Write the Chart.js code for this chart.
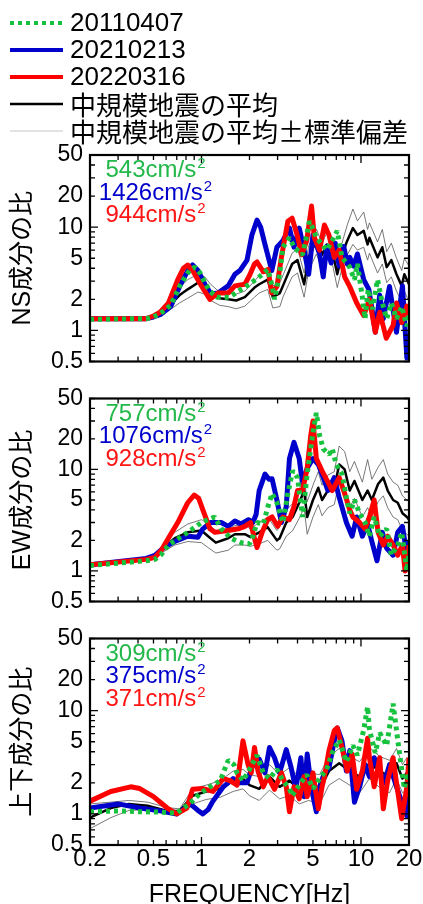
<!DOCTYPE html>
<html><head><meta charset="utf-8">
<script src="https://cdn.jsdelivr.net/npm/chart.js@4.4.1/dist/chart.umd.min.js"></script>
<style>
html,body{margin:0;padding:0;background:#fff;width:423px;height:904px;overflow:hidden;position:relative}
canvas{position:absolute;left:0}
</style></head><body>
<canvas id="c1" width="423" height="380" style="top:0px"></canvas>
<canvas id="c2" width="423" height="240" style="top:380px"></canvas>
<canvas id="c3" width="423" height="290" style="top:620px"></canvas>
<script>
// ---------- ticks / labels ----------
const xTicks = [0.2, 0.5, 1, 2, 5, 10, 20];
const yTicks = [0.5, 1, 2, 5, 10, 20, 50];
const seriesLabels = ['20110407', '20210213', '20220316', '中規模地震の平均', '中規模地震の平均±標準偏差'];
const panelTitles = ['NS成分の比', 'EW成分の比', '上下成分の比'];
const xTitle = 'FREQUENCY[Hz]';
const nsPga = ['543', '1426', '944'];
const ewPga = ['757', '1076', '928'];
const udPga = ['309', '375', '371'];

// ---------- NS component [frequency Hz, ratio] ----------
const nsGreen = [[0.2,1.28],[0.45,1.3],[0.5,1.35],[0.55,1.45],[0.64,1.75],[0.74,2.8],[0.84,3.8],[0.91,4.1],[0.98,3.6],[1.05,2.9],[1.13,2.4],[1.25,2.1],[1.5,2.1],[1.77,2.5],[2.0,2.8],[2.3,3.3],[2.61,3.9],[2.77,2.7],[2.87,2.0],[3.09,3.5],[3.24,6.4],[3.56,7.9],[3.8,6.4],[4.3,5.4],[4.57,8.4],[4.75,11.4],[5.0,9.7],[5.25,7.9],[5.7,6.8],[6.1,6.0],[6.6,7.4],[7.1,9.2],[7.6,5.1],[8.5,4.1],[9.1,3.1],[9.5,4.4],[10.2,2.1],[10.6,1.3],[11.1,2.5],[11.8,1.6],[12.7,3.1],[13.6,1.84],[14.5,1.3],[15.5,1.84],[16.7,1.3],[18.0,1.7],[19.4,1.1],[20,1.4]];
const nsBlue = [[0.2,1.3],[0.45,1.3],[0.5,1.35],[0.55,1.42],[0.64,1.7],[0.74,2.8],[0.82,3.8],[0.88,4.3],[0.95,3.8],[1.05,2.8],[1.15,2.25],[1.27,2.3],[1.47,2.7],[1.62,3.5],[1.74,3.8],[1.93,4.8],[2.07,8.4],[2.23,11.7],[2.35,10.0],[2.5,6.8],[2.76,3.8],[2.97,6.4],[3.24,7.4],[3.56,9.8],[3.8,6.4],[4.1,9.8],[4.4,6.0],[4.7,3.5],[5.0,8.4],[5.5,5.5],[5.8,3.3],[6.1,6.5],[6.5,4.5],[6.9,7.0],[7.3,4.2],[7.8,6.5],[8.2,4.4],[8.5,5.1],[9.0,4.2],[9.5,5.5],[10.4,3.1],[11.2,2.5],[11.8,1.5],[12.3,0.96],[13.1,2.2],[13.8,1.3],[15.1,2.66],[16.7,0.96],[18.2,2.7],[19.4,0.54],[20,0.8]];
const nsRed = [[0.2,1.3],[0.45,1.3],[0.5,1.38],[0.55,1.5],[0.62,1.84],[0.71,3.1],[0.77,4.0],[0.82,4.3],[0.88,3.8],[1.0,2.7],[1.13,2.0],[1.27,2.3],[1.47,2.3],[1.62,2.7],[1.87,2.8],[2.0,3.4],[2.15,4.4],[2.23,4.6],[2.44,3.7],[2.61,3.9],[2.76,2.3],[2.97,2.66],[3.17,5.1],[3.48,11.4],[3.7,12.2],[3.98,8.4],[4.25,5.4],[4.57,7.4],[4.9,16],[5.1,7.9],[5.5,6.0],[5.9,10.5],[6.3,8.4],[6.8,5.1],[7.3,6.0],[7.9,3.3],[8.5,2.66],[9.4,1.84],[10.4,1.39],[11.3,2.0],[12.3,0.96],[13.1,1.5],[14.4,0.84],[15.9,1.12],[16.7,1.84],[18.0,1.19],[19.4,1.72],[20,1.4]];
const nsMean = [[0.2,1.3],[0.45,1.3],[0.51,1.38],[0.57,1.5],[0.64,1.8],[0.73,2.2],[0.82,2.5],[0.95,2.9],[1.05,2.6],[1.14,2.3],[1.3,2.05],[1.47,2.0],[1.65,1.95],[1.87,2.1],[2.15,2.6],[2.3,2.8],[2.6,3.1],[2.8,2.1],[3.1,2.3],[3.24,2.7],[3.7,4.4],[4.0,4.8],[4.4,2.8],[4.7,5.1],[5.25,7.4],[5.7,5.4],[6.1,6.8],[6.6,6.0],[7.1,3.5],[7.6,5.4],[8.2,7.4],[8.9,9.8],[9.5,8.4],[10.4,9.2],[11.0,6.8],[11.3,7.9],[12.7,5.1],[13.6,6.4],[14.5,4.1],[15.5,4.8],[16.7,3.5],[18.0,2.7],[18.7,3.5],[20,2.8]];
const nsUpper = [[0.2,1.32],[0.45,1.34],[0.51,1.42],[0.57,1.6],[0.64,2.0],[0.73,2.6],[0.82,3.1],[0.95,3.5],[1.05,3.3],[1.14,2.8],[1.3,2.35],[1.47,2.3],[1.65,2.25],[1.87,2.4],[2.15,3.0],[2.3,3.4],[2.6,3.9],[2.8,2.7],[3.1,2.9],[3.24,3.4],[3.7,5.6],[4.0,6.2],[4.4,3.6],[4.7,6.6],[5.25,9.6],[5.7,7.0],[6.1,8.8],[6.6,7.8],[7.1,4.6],[7.6,7.0],[8.2,10.5],[8.9,15],[9.5,11.5],[10.4,14],[11.0,9.5],[11.3,11],[12.7,7.2],[13.6,9.5],[14.5,5.8],[15.5,7.0],[16.7,5.0],[18.0,3.8],[18.7,5.0],[20,4.2]];
const nsLower = [[0.2,1.27],[0.45,1.27],[0.51,1.32],[0.57,1.4],[0.64,1.6],[0.73,1.85],[0.82,2.05],[0.95,2.35],[1.05,2.25],[1.14,1.95],[1.3,1.75],[1.47,1.7],[1.65,1.62],[1.87,1.72],[2.15,2.1],[2.3,2.3],[2.6,2.5],[2.8,1.65],[3.1,1.7],[3.24,2.1],[3.7,3.3],[4.0,3.6],[4.4,2.1],[4.7,3.8],[5.25,5.5],[5.7,4.0],[6.1,5.0],[6.6,4.5],[7.1,2.6],[7.6,4.0],[8.2,5.4],[8.9,6.8],[9.5,6.0],[10.4,6.4],[11.0,4.8],[11.3,5.6],[12.7,3.6],[13.6,4.4],[14.5,2.9],[15.5,3.3],[16.7,2.4],[18.0,1.9],[18.7,2.4],[20,1.9]];

// ---------- EW component ----------
const ewGreen = [[0.2,1.13],[0.45,1.26],[0.51,1.3],[0.56,1.45],[0.62,1.8],[0.72,2.1],[0.82,2.4],[1.0,3.0],[1.1,3.2],[1.21,3.4],[1.33,2.6],[1.53,2.1],[1.77,1.9],[2.0,1.85],[2.1,2.2],[2.23,3.0],[2.44,2.9],[2.61,4.3],[2.77,5.8],[2.97,4.7],[3.24,3.0],[3.48,5.8],[3.73,9.7],[4.0,8.3],[4.3,3.4],[4.6,9.0],[5.0,23],[5.25,36],[5.5,21.7],[5.8,16],[6.3,14],[6.6,16],[7.0,11.2],[7.6,9.0],[8.1,5.3],[8.5,3.7],[9.1,5.0],[9.8,3.7],[10.6,3.0],[11.3,2.2],[12.1,3.4],[13.1,2.2],[14.5,2.6],[15.5,1.43],[17.0,1.8],[18.0,2.4],[19.4,1.0],[20,1.5]];
const ewBlue = [[0.2,1.15],[0.45,1.33],[0.51,1.42],[0.58,1.7],[0.68,1.95],[0.82,2.2],[0.95,2.15],[1.02,2.6],[1.14,3.0],[1.33,3.0],[1.47,2.75],[1.62,3.1],[1.77,2.9],[1.97,3.2],[2.1,3.0],[2.2,3.6],[2.3,6.2],[2.5,9.0],[2.65,8.0],[2.77,8.1],[2.97,5.0],[3.17,3.0],[3.4,4.3],[3.56,12.8],[3.8,18.5],[4.1,12.8],[4.3,7.2],[4.6,10.3],[5.0,12.8],[5.4,11.2],[5.8,8.3],[6.2,6.2],[6.8,8.3],[7.3,5.3],[8.1,3.0],[8.8,2.2],[9.4,3.4],[10.2,2.2],[11.0,2.9],[11.7,1.95],[12.6,1.26],[13.6,2.4],[14.5,1.67],[15.9,1.43],[17.0,2.4],[18.2,2.75],[19.4,1.43],[20,2.0]];
const ewRed = [[0.2,1.15],[0.45,1.3],[0.51,1.36],[0.56,1.6],[0.62,2.1],[0.71,3.0],[0.82,4.7],[0.9,5.6],[0.96,5.2],[1.02,4.0],[1.13,2.6],[1.21,2.4],[1.47,2.5],[1.7,2.6],[1.87,2.75],[2.03,3.0],[2.13,2.2],[2.23,1.7],[2.4,2.4],[2.6,3.2],[2.77,3.4],[3.0,2.75],[3.24,3.4],[3.56,3.2],[3.8,4.3],[4.0,6.2],[4.3,6.2],[4.6,10.3],[4.85,22],[5.0,30],[5.25,12.8],[5.7,9.7],[6.1,7.9],[6.6,6.2],[7.3,8.3],[7.9,5.8],[8.5,4.0],[8.9,3.4],[9.8,3.0],[10.6,2.6],[11.3,3.4],[12.1,5.0],[12.8,2.4],[13.8,1.8],[14.7,2.2],[15.9,1.8],[17.0,1.43],[18.2,1.8],[18.9,1.0],[19.4,1.15],[20,1.8]];
const ewMean = [[0.2,1.15],[0.45,1.3],[0.51,1.36],[0.58,1.7],[0.68,2.1],[0.82,2.4],[1.0,2.5],[1.1,2.2],[1.23,1.9],[1.47,2.1],[1.62,2.3],[1.87,2.3],[2.03,2.15],[2.3,2.4],[2.6,2.7],[2.97,2.0],[3.09,2.1],[3.4,3.0],[3.73,3.4],[4.1,4.7],[4.4,6.2],[4.6,3.4],[5.0,5.0],[5.4,6.6],[5.7,5.0],[6.2,6.2],[6.8,6.5],[7.3,11.2],[7.9,10],[8.5,6.2],[9.1,7.7],[10.2,5.0],[11.0,6.2],[11.7,5.0],[12.8,7.2],[13.8,8.3],[14.7,6.2],[15.9,5.0],[17.0,4.7],[18.2,3.7],[19.4,3.4],[20,3.2]];
const ewUpper = [[0.2,1.17],[0.45,1.33],[0.51,1.42],[0.58,1.85],[0.68,2.4],[0.82,2.9],[1.0,3.2],[1.1,2.9],[1.23,2.5],[1.47,2.6],[1.62,2.8],[1.87,2.8],[2.03,2.6],[2.3,3.0],[2.6,3.4],[2.97,2.5],[3.09,2.7],[3.4,4.0],[3.73,4.6],[4.1,6.4],[4.4,8.5],[4.6,4.8],[5.0,7.0],[5.4,9.5],[5.7,7.0],[6.2,8.8],[6.8,9.5],[7.3,17],[7.9,15],[8.5,9.5],[9.1,12],[10.2,7.5],[11.0,12.5],[11.7,8.0],[12.8,10.5],[13.8,12.5],[14.7,9.0],[15.9,7.5],[17.0,7.0],[18.2,5.5],[19.4,5.0],[20,4.8]];
const ewLower = [[0.2,1.13],[0.45,1.27],[0.51,1.3],[0.58,1.55],[0.68,1.8],[0.82,1.95],[1.0,1.9],[1.1,1.7],[1.23,1.5],[1.47,1.6],[1.62,1.8],[1.87,1.8],[2.03,1.75],[2.3,1.85],[2.6,2.0],[2.97,1.6],[3.09,1.65],[3.4,2.2],[3.73,2.5],[4.1,3.3],[4.4,4.2],[4.6,2.3],[5.0,3.4],[5.4,4.5],[5.7,3.5],[6.2,4.2],[6.8,4.5],[7.3,7.5],[7.9,6.5],[8.5,4.2],[9.1,5.2],[10.2,3.4],[11.0,4.2],[11.7,3.4],[12.8,4.8],[13.8,5.5],[14.7,4.2],[15.9,3.4],[17.0,3.2],[18.2,2.5],[19.4,2.3],[20,2.2]];

// ---------- UD (上下) component ----------
const udGreen = [[0.2,1.05],[0.3,1.07],[0.41,1.05],[0.55,1.04],[0.7,1.02],[0.85,1.27],[0.98,1.58],[1.13,1.83],[1.31,2.1],[1.47,3.3],[1.6,3.0],[1.67,2.5],[1.82,2.1],[2.0,2.7],[2.23,3.7],[2.44,2.5],[2.67,2.2],[2.97,2.7],[3.24,2.1],[3.56,1.76],[3.7,1.5],[4.1,1.9],[4.57,2.4],[5.0,1.76],[5.5,2.2],[6.1,2.7],[6.6,3.9],[7.3,5.2],[8.1,3.2],[8.9,4.6],[9.5,3.7],[10.4,6.5],[11.0,10.9],[11.3,6.5],[12.3,3.9],[13.1,6.1],[14.5,4.6],[15.9,11.7],[17.0,5.2],[18.0,2.7],[18.7,1.76],[19.6,2.5],[20,2.0]];
const udBlue = [[0.2,1.14],[0.3,1.25],[0.41,1.14],[0.55,1.07],[0.7,1.0],[0.85,1.25],[0.95,1.08],[1.02,1.0],[1.1,1.1],[1.18,1.33],[1.37,1.83],[1.58,2.2],[1.74,2.0],[1.93,2.0],[2.1,3.0],[2.3,3.4],[2.5,2.5],[2.67,4.4],[2.87,3.5],[3.09,2.5],[3.4,4.2],[3.65,2.8],[3.9,1.73],[4.2,3.5],[4.4,1.47],[4.6,3.8],[4.9,1.73],[5.25,1.05],[5.5,1.83],[5.9,2.5],[6.3,2.8],[6.8,5.1],[7.1,6.8],[7.6,5.1],[8.1,2.6],[8.5,4.1],[9.1,1.3],[9.8,1.83],[10.6,3.0],[11.3,2.3],[12.1,3.5],[13.1,2.6],[14.0,2.0],[15.1,3.0],[16.7,1.83],[18.0,1.3],[19.4,0.96],[20,2.0]];
const udRed = [[0.2,1.33],[0.27,1.65],[0.36,1.83],[0.41,1.76],[0.5,1.47],[0.61,1.14],[0.7,1.0],[0.81,1.14],[0.88,1.73],[1.02,1.76],[1.18,1.65],[1.37,2.2],[1.51,2.1],[1.67,1.9],[1.82,5.1],[1.96,3.0],[2.05,2.5],[2.15,4.4],[2.26,2.6],[2.44,1.83],[2.61,2.3],[2.87,1.73],[3.17,2.5],[3.4,1.83],[3.56,1.05],[3.8,1.83],[4.1,1.4],[4.4,2.3],[4.6,1.47],[5.0,2.5],[5.4,1.12],[5.7,1.83],[5.9,2.3],[6.3,4.1],[6.8,6.4],[7.1,6.8],[7.6,4.4],[8.2,2.6],[8.8,3.8],[9.4,1.73],[10.2,2.6],[11.0,5.4],[11.3,3.5],[12.1,1.83],[13.1,3.5],[13.8,1.12],[14.7,2.1],[15.9,3.5],[16.7,2.0],[18.0,0.9],[19.4,1.83],[20,3.5]];
const udMean = [[0.2,0.92],[0.27,1.14],[0.35,1.25],[0.46,1.2],[0.61,1.07],[0.73,1.07],[0.88,1.5],[1.07,1.65],[1.31,1.75],[1.58,2.1],[1.82,2.2],[2.0,1.9],[2.3,1.75],[2.67,2.3],[3.09,1.83],[3.56,2.1],[4.1,1.73],[4.7,1.83],[5.5,1.73],[6.3,2.6],[7.3,3.1],[8.5,2.6],[9.8,2.3],[11.3,3.1],[13.1,2.6],[15.1,2.3],[16.7,3.1],[18.2,2.2],[19.4,2.5],[20,2.4]];
const udUpper = [[0.2,1.25],[0.27,1.3],[0.35,1.35],[0.46,1.3],[0.61,1.15],[0.73,1.12],[0.88,1.75],[1.07,1.9],[1.31,2.1],[1.58,2.6],[1.82,2.7],[2.0,2.4],[2.3,2.3],[2.67,3.0],[3.09,2.4],[3.56,2.8],[4.1,2.3],[4.7,2.5],[5.5,2.4],[6.3,3.6],[7.3,4.3],[8.5,3.6],[9.8,3.2],[11.3,4.4],[13.1,3.6],[15.1,3.3],[16.7,4.3],[18.2,3.0],[19.4,3.5],[20,3.3]];
const udLower = [[0.2,0.72],[0.27,0.92],[0.35,1.08],[0.46,1.1],[0.61,1.0],[0.73,1.02],[0.88,1.25],[1.07,1.38],[1.31,1.45],[1.58,1.65],[1.82,1.75],[2.0,1.5],[2.3,1.35],[2.67,1.7],[3.09,1.4],[3.56,1.5],[4.1,1.25],[4.7,1.35],[5.5,1.25],[6.3,1.9],[7.3,2.2],[8.5,1.9],[9.8,1.6],[11.3,2.2],[13.1,1.8],[15.1,1.6],[16.7,2.2],[18.2,1.6],[19.4,1.7],[20,1.7]];

// ---------- styling ----------
const FONT = "'Liberation Sans', Arial, 'Noto Sans CJK JP', sans-serif";
const CJKFONT = "'Noto Sans CJK JP', 'Liberation Sans', sans-serif";
const GREEN = '#17c23e', BLUE = '#0000cc', RED = '#ff0000', GREY = '#555555';
const pgaColors = ['#22b84a', '#0000cc', '#ff1414'];

function makeDatasets(g, b, r, k, hi, lo) {
  const base = {pointRadius: 0, fill: false, tension: 0, borderJoinStyle: 'round'};
  return [
    {...base, label: seriesLabels[0], data: g, borderColor: GREEN, borderWidth: 5, borderDash: [4, 4], borderCapStyle: 'butt', borderJoinStyle: 'bevel', order: 0},
    {...base, label: seriesLabels[1], data: b, borderColor: BLUE, borderWidth: 5, order: 2},
    {...base, label: seriesLabels[2], data: r, borderColor: RED, borderWidth: 5, order: 1},
    {...base, label: seriesLabels[3], data: k, borderColor: '#000', borderWidth: 2.5, order: 3},
    {...base, label: seriesLabels[4], data: hi, borderColor: GREY, borderWidth: 0.8, order: 4},
    {...base, label: seriesLabels[4], data: lo, borderColor: GREY, borderWidth: 0.8, order: 5}
  ];
}

const framePlugin = {
  id: 'frame',
  afterDatasetsDraw(chart) {
    const {ctx, chartArea: a, scales: {x, y}} = chart;
    ctx.save();
    ctx.strokeStyle = '#000';
    ctx.lineWidth = 1.3;
    ctx.beginPath();
    [0.1, 1, 10].forEach(d => {
      for (let m = 1; m < 10; m++) {
        const v = +(m * d).toFixed(3);
        if (v >= x.min && v <= x.max) {
          const p = x.getPixelForValue(v);
          const L = m === 1 ? 8 : 5;
          ctx.moveTo(p, a.bottom); ctx.lineTo(p, a.bottom - L);
          ctx.moveTo(p, a.top); ctx.lineTo(p, a.top + L);
        }
      }
    });
    [0.1, 1, 10].forEach(d => {
      for (let m = 1; m < 10; m++) {
        const v = +(m * d).toFixed(3);
        if (v >= y.min && v <= y.max) {
          const p = y.getPixelForValue(v);
          const L = m === 1 ? 8 : 5;
          ctx.moveTo(a.left, p); ctx.lineTo(a.left + L, p);
          ctx.moveTo(a.right, p); ctx.lineTo(a.right - L, p);
        }
      }
    });
    ctx.stroke();
    ctx.lineWidth = 2.2;
    ctx.strokeRect(a.left, a.top, a.right - a.left, a.bottom - a.top);
    ctx.restore();
  }
};

const pgaPlugin = {
  id: 'pga',
  afterDraw(chart, args, opts) {
    if (!opts || !opts.values) return;
    const {ctx, chartArea: a} = chart;
    ctx.save();
    ctx.textBaseline = 'alphabetic';
    opts.values.forEach((val, i) => {
      const main = val + 'cm/s';
      ctx.font = '24px ' + FONT;
      const w1 = ctx.measureText(main).width;
      ctx.font = '15px ' + FONT;
      const w2 = ctx.measureText('2').width;
      const x0 = a.left + 65 - (w1 + w2) / 2;
      const base = a.top + 22 + i * 22.5;
      ctx.fillStyle = pgaColors[i];
      ctx.font = '24px ' + FONT;
      ctx.fillText(main, x0, base);
      ctx.font = '15px ' + FONT;
      ctx.fillText('2', x0 + w1 + 1, base - 9);
    });
    ctx.restore();
  }
};

const legendPlugin = {
  id: 'topLegend',
  afterDraw(chart) {
    const ctx = chart.ctx;
    const ds = chart.data.datasets;
    ctx.save();
    ctx.textBaseline = 'middle';
    for (let i = 0; i < 5; i++) {
      const d = ds[i];
      const yy = 23 + i * 27;
      ctx.beginPath();
      ctx.strokeStyle = i === 4 ? '#c8c8c8' : d.borderColor;
      ctx.lineWidth = i === 4 ? 1.2 : Math.min(d.borderWidth, 4);
      ctx.setLineDash(d.borderDash || []);
      ctx.lineCap = 'butt';
      ctx.moveTo(10, yy); ctx.lineTo(63, yy);
      ctx.stroke();
      ctx.setLineDash([]);
      ctx.fillStyle = '#000';
      ctx.font = (i >= 3 ? '26px ' + CJKFONT : '26px ' + FONT);
      ctx.fillText(d.label, 70, yy + 1);
    }
    ctx.restore();
  }
};

function makeChart(id, sets, pga, title, showX, pad, xHeight, withLegend) {
  const plugins = [framePlugin, pgaPlugin];
  if (withLegend) plugins.push(legendPlugin);
  return new Chart(document.getElementById(id), {
    type: 'line',
    data: {datasets: sets},
    options: {
      responsive: false,
      maintainAspectRatio: false,
      animation: false,
      devicePixelRatio: 1,
      layout: {padding: pad},
      plugins: {legend: {display: false}, tooltip: {enabled: false}, pga: {values: pga}},
      scales: {
        x: {
          type: 'logarithmic', min: 0.2, max: 20,
          afterBuildTicks: s => { s.ticks = xTicks.map(v => ({value: v})); },
          afterFit: s => { s.height = xHeight; },
          grid: {display: false, drawTicks: false},
          border: {display: false},
          ticks: {display: showX, autoSkip: false, maxRotation: 0, padding: 0, color: '#000',
                  font: {family: FONT, size: 24, lineHeight: 1.2}, callback: v => String(v)},
          title: {display: showX, text: xTitle, color: '#000', padding: {top: 0, bottom: 0},
                  font: {family: FONT, size: 25, lineHeight: 1.2}}
        },
        y: {
          type: 'logarithmic', min: 0.5, max: 50,
          afterBuildTicks: s => { s.ticks = yTicks.map(v => ({value: v})); },
          afterFit: s => { s.width = 90; },
          grid: {display: false, drawTicks: false},
          border: {display: false},
          ticks: {autoSkip: false, padding: 7, color: '#000',
                  font: {family: FONT, size: 23, lineHeight: 1.0}, callback: v => String(v)},
          title: {display: true, text: title, color: '#000', padding: {top: 8, bottom: 0},
                  font: {family: FONT, size: 25, lineHeight: 1.2}}
        }
      }
    },
    plugins: plugins
  });
}

makeChart('c1', makeDatasets(nsGreen, nsBlue, nsRed, nsMean, nsUpper, nsLower), nsPga, panelTitles[0], false,
  {top: 155, bottom: 13, left: 0, right: 14}, 0, true);
makeChart('c2', makeDatasets(ewGreen, ewBlue, ewRed, ewMean, ewUpper, ewLower), ewPga, panelTitles[1], false,
  {top: 15, bottom: 15, left: 0, right: 14}, 0, false);
makeChart('c3', makeDatasets(udGreen, udBlue, udRed, udMean, udUpper, udLower), udPga, panelTitles[2], true,
  {top: 13, bottom: 0, left: 0, right: 14}, 65, false);
</script>
</body></html>
